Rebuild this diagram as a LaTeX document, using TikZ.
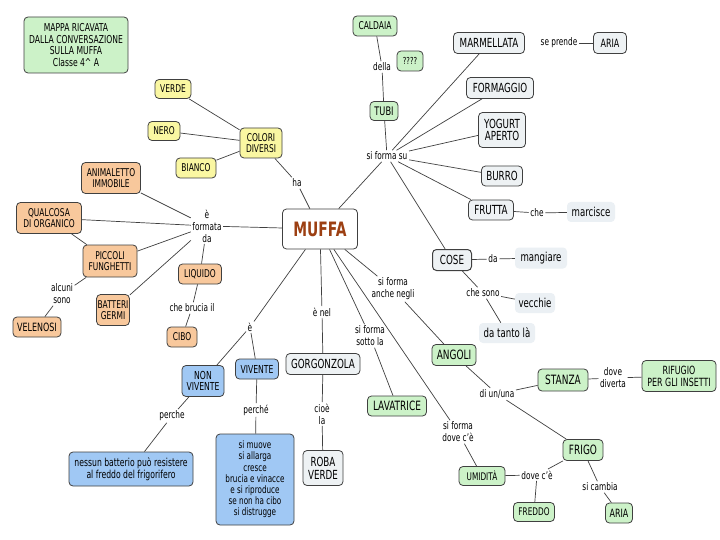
\documentclass[tikz,border=0pt]{standalone}
\usepackage{fontspec}
\setmainfont{DejaVu Sans}[FakeStretch=0.7]
\definecolor{cyel}{HTML}{FAF7A2}
\definecolor{corg}{HTML}{F8C89C}
\definecolor{cgrn}{HTML}{CCF2C8}
\definecolor{cblu}{HTML}{A0C8F4}
\definecolor{cgry}{HTML}{EEF2F4}
\definecolor{clgt}{HTML}{EBF0F4}
\definecolor{cbord}{HTML}{404040}
\definecolor{cmuffa}{HTML}{9C3F12}
\tikzset{
  box/.style={draw=cbord, rounded corners=4pt, line width=0.8pt, align=center, inner sep=1pt},
  yelbox/.style={box, fill=cyel, font=\fontsize{10.7}{11}\selectfont},
  orgbox/.style={box, fill=corg, font=\fontsize{10.7}{11}\selectfont},
  grnbox/.style={box, fill=cgrn, font=\fontsize{12.8}{13}\selectfont},
  blubox/.style={box, fill=cblu, font=\fontsize{11}{11.7}\selectfont},
  grybox/.style={box, fill=cgry, font=\fontsize{12.5}{12.8}\selectfont},
  lgtbox/.style={rounded corners=4pt, fill=clgt, align=center, inner sep=1pt, font=\fontsize{12.3}{13}\selectfont},
  lab/.style={align=center, inner sep=1.5pt, font=\fontsize{10.5}{12}\selectfont},
  conn/.style={draw=black!75, line width=0.7pt}
}
\begin{document}
\begin{tikzpicture}[x=1pt,y=-1pt]
\fill[white] (0,0) rectangle (720,540);
\useasboundingbox (0,0) rectangle (720,540);

% title
\node[grnbox, minimum width=104, minimum height=56, font=\fontsize{10.9}{11.7}\selectfont] (title) at (76,45) {MAPPA RICAVATA\\DALLA CONVERSAZIONE\\SULLA MUFFA\\Classe 4\textasciicircum{} A};

% yellow
\node[yelbox, minimum width=36, minimum height=19] (verde) at (173,89) {VERDE};
\node[yelbox, minimum width=32, minimum height=19] (nero) at (164,131) {NERO};
\node[yelbox, minimum width=40, minimum height=20] (bianco) at (196,168) {BIANCO};
\node[yelbox, minimum width=42, minimum height=30] (colori) at (261,143) {COLORI\\DIVERSI};

% orange
\node[orgbox, minimum width=59, minimum height=31] (animaletto) at (111,178) {ANIMALETTO\\IMMOBILE};
\node[orgbox, minimum width=65, minimum height=31] (qualcosa) at (49,218) {QUALCOSA\\DI ORGANICO};
\node[orgbox, minimum width=54, minimum height=32] (piccoli) at (110,261) {PICCOLI\\FUNGHETTI};
\node[orgbox, minimum width=32, minimum height=31] (batteri) at (113,310) {BATTERI\\GERMI};
\node[orgbox, minimum width=48, minimum height=20, font=\fontsize{11.4}{12}\selectfont] (velenosi) at (37,327) {VELENOSI};
\node[orgbox, minimum width=43, minimum height=20] (liquido) at (200,274) {LIQUIDO};
\node[orgbox, minimum width=30, minimum height=20] (cibo) at (182,337) {CIBO};

% central
\node[box, fill=white, minimum width=75, minimum height=40, text=cmuffa, font=\fontsize{19.8}{21}\selectfont\bfseries] (muffa) at (320,229) {MUFFA};

% green top
\node[grnbox, minimum width=28, minimum height=19, font=\fontsize{11.8}{12}\selectfont] (tubi) at (384,111) {TUBI};
\node[grnbox, minimum width=44, minimum height=20, font=\fontsize{10.8}{12}\selectfont] (caldaia) at (375,26) {CALDAIA};
\node[grnbox, minimum width=26, minimum height=20, font=\fontsize{9.6}{12}\selectfont] (qq) at (410,61) {????};

% gray
\node[grybox, minimum width=71, minimum height=21] (marmellata) at (489,43) {MARMELLATA};
\node[grybox, minimum width=33, minimum height=21, font=\fontsize{11.4}{12}\selectfont] (ariaT) at (610,43) {ARIA};
\node[grybox, minimum width=67, minimum height=21] (formaggio) at (500,88) {FORMAGGIO};
\node[grybox, minimum width=47, minimum height=35] (yogurt) at (502,130) {YOGURT\\APERTO};
\node[grybox, minimum width=41, minimum height=20] (burro) at (502,176) {BURRO};
\node[grybox, minimum width=45, minimum height=20] (frutta) at (491,210) {FRUTTA};
\node[grybox, minimum width=39, minimum height=21, line width=1pt] (cose) at (452,260) {COSE};
\node[grybox, minimum width=74, minimum height=21] (gorgonzola) at (323,364) {GORGONZOLA};
\node[grybox, minimum width=40, minimum height=35] (roba) at (323,468) {ROBA\\VERDE};

% light borderless
\node[lgtbox, minimum width=48, minimum height=20] (marcisce) at (591,212) {marcisce};
\node[lgtbox, minimum width=52, minimum height=21] (mangiare) at (541,258) {mangiare};
\node[lgtbox, minimum width=40, minimum height=20] (vecchie) at (535,303) {vecchie};
\node[lgtbox, minimum width=56, minimum height=20] (datanto) at (507,333) {da tanto là};

% green lower
\node[grnbox, minimum width=44, minimum height=21] (angoli) at (454,355) {ANGOLI};
\node[grnbox, minimum width=50, minimum height=22] (stanza) at (563,380) {STANZA};
\node[grnbox, minimum width=74, minimum height=31, font=\fontsize{11.3}{12}\selectfont] (rifugio) at (679,376) {RIFUGIO\\PER GLI INSETTI};
\node[grnbox, minimum width=40, minimum height=21] (frigo) at (583,450) {FRIGO};
\node[grnbox, minimum width=46, minimum height=19, font=\fontsize{10.5}{12}\selectfont] (umidita) at (482,476) {UMIDITÀ};
\node[grnbox, minimum width=41, minimum height=19, font=\fontsize{10.5}{12}\selectfont] (freddo) at (534,512) {FREDDO};
\node[grnbox, minimum width=27, minimum height=20, font=\fontsize{11.4}{12}\selectfont] (ariaB) at (619,513) {ARIA};
\node[grnbox, minimum width=59, minimum height=20] (lavatrice) at (397,406) {LAVATRICE};

% blue
\node[blubox, minimum width=42, minimum height=31] (nonviv) at (203,381) {NON\\VIVENTE};
\node[blubox, minimum width=43, minimum height=20] (vivente) at (257,369) {VIVENTE};
\node[blubox, minimum width=78, minimum height=91, font=\fontsize{10.3}{11.2}\selectfont] (bigblue) at (255,479.5) {si muove\\si allarga\\cresce\\brucia e vinacce\\e si riproduce\\se non ha cibo\\si distrugge};
\node[blubox, minimum width=124, minimum height=34, font=\fontsize{11}{11.5}\selectfont] (nessun) at (131,469) {nessun batterio può resistere\\al freddo del frigorifero};

% labels
\node[lab] (lha) at (297,183) {ha};
\node[lab] (lforma) at (207,226) {è\\formata\\da};
\node[lab] (lalcuni) at (62,294) {alcuni\\sono};
\node[lab] (lbrucia) at (192,308) {che brucia il};
\node[lab] (lsu) at (387,156) {si forma su};
\node[lab] (ldella) at (382,67) {della};
\node[lab] (lprende) at (559,43) {se prende};
\node[lab] (lche) at (537,213) {che};
\node[lab] (lda) at (493,259) {da};
\node[lab] (lsono) at (483,293) {che sono};
\node[lab] (lnegli) at (393,289) {si forma\\anche negli};
\node[lab] (ldiuna) at (497,394) {di un/una};
\node[lab] (ldiverta) at (613,378) {dove\\diverta};
\node[lab] (ldovece) at (537,475) {dove c'è};
\node[lab] (lcambia) at (600,487) {si cambia};
\node[lab] (lnel) at (322,312) {è nel};
\node[lab] (lcioe) at (322,414) {cioè\\la};
\node[lab] (lsotto) at (370,336) {si forma\\sotto la};
\node[lab] (ldovec) at (458,432) {si forma\\dove c'è};
\node[lab] (le) at (250,327) {è};
\node[lab] (lperche) at (172,416) {perche};
\node[lab] (lperchee) at (256,410) {perché};

% connectors
\draw[conn] (colori) -- (lha) -- (muffa);
\draw[conn] (verde) -- (colori);
\draw[conn] (nero) -- (colori);
\draw[conn] (bianco) -- (colori);
\draw[conn] (muffa) -- (lforma);
\draw[conn] (lforma) -- (animaletto);
\draw[conn] (lforma) -- (qualcosa);
\draw[conn] (lforma) -- (piccoli);
\draw[conn] (lforma) -- (batteri);
\draw[conn] (lforma) -- (liquido);
\draw[conn] (qualcosa) -- (piccoli);
\draw[conn] (piccoli) -- (lalcuni) -- (velenosi);
\draw[conn] (liquido) -- (lbrucia) -- (cibo);
\draw[conn] (muffa) -- (lsu);
\draw[conn] (lsu) -- (tubi);
\draw[conn] (lsu) -- (marmellata);
\draw[conn] (lsu) -- (formaggio);
\draw[conn] (lsu) -- (yogurt);
\draw[conn] (lsu) -- (burro);
\draw[conn] (lsu) -- (frutta);
\draw[conn] (lsu) -- (cose);
\draw[conn] (tubi) -- (ldella) -- (caldaia);
\draw[conn] (lprende) -- (ariaT);
\draw[conn] (frutta) -- (lche) -- (marcisce);
\draw[conn] (cose) -- (lda) -- (mangiare);
\draw[conn] (cose) -- (lsono) -- (vecchie);
\draw[conn] (lsono) -- (datanto);
\draw[conn] (muffa) -- (lnegli) -- (angoli);
\draw[conn] (angoli) -- (ldiuna) -- (stanza);
\draw[conn] (ldiuna) -- (frigo);
\draw[conn] (stanza) -- (ldiverta) -- (rifugio);
\draw[conn] (frigo) -- (ldovece) -- (umidita);
\draw[conn] (ldovece) -- (freddo);
\draw[conn] (frigo) -- (lcambia) -- (ariaB);
\draw[conn] (muffa) -- (lnel) -- (gorgonzola);
\draw[conn] (gorgonzola) -- (lcioe) -- (roba);
\draw[conn] (muffa) -- (lsotto) -- (lavatrice);
\draw[conn] (muffa) -- (ldovec) -- (umidita);
\draw[conn] (muffa) -- (le) -- (nonviv);
\draw[conn] (le) -- (vivente);
\draw[conn] (nonviv) -- (lperche) -- (nessun);
\draw[conn] (vivente) -- (lperchee) -- (bigblue);
\end{tikzpicture}
\end{document}
